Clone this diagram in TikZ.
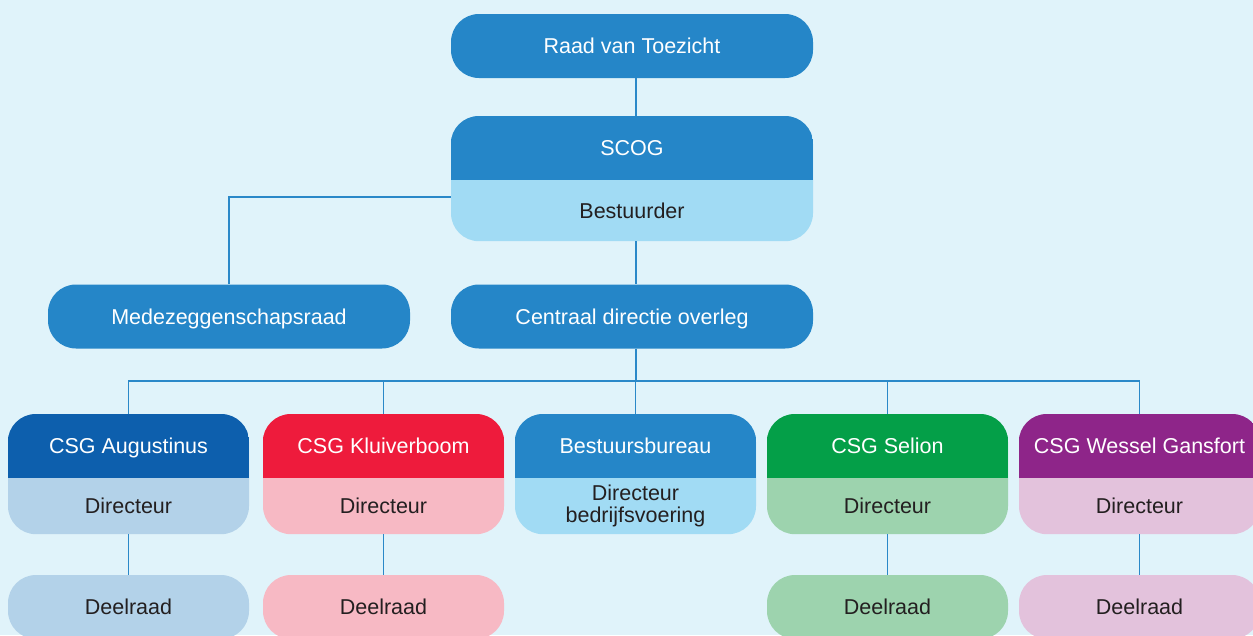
\documentclass[tikz,border=0pt]{standalone}
\usepackage{fontspec}
\setmainfont{Liberation Sans}
\usetikzlibrary{calc}
\definecolor{bg}{HTML}{E0F3FA}
\definecolor{mid}{HTML}{2586C8}
\definecolor{midl}{HTML}{A1DBF4}
\definecolor{augd}{HTML}{0D5FAD}
\definecolor{augl}{HTML}{B3D2E9}
\definecolor{redd}{HTML}{EE1B3C}
\definecolor{redl}{HTML}{F7B9C4}
\definecolor{grnd}{HTML}{049F48}
\definecolor{grnl}{HTML}{9DD3AE}
\definecolor{purd}{HTML}{8E2589}
\definecolor{purl}{HTML}{E3C2DC}
\definecolor{linec}{HTML}{2A88C8}
\definecolor{tdark}{HTML}{231F20}
\tikzset{
  box/.style={rounded corners=28pt, minimum height=64pt, inner sep=0pt, draw=none},
  txt/.style={font=\fontsize{21.5}{21.5}\selectfont, inner sep=0pt},
  captxt/.style={txt, text height=15.4pt, text depth=0pt},
  txtw/.style={captxt, text=white},
  txtd/.style={captxt, text=tdark},
  conn/.style={draw=linec, line width=1.3pt},
}
% name, cx, ytop, width, subheight, dark, light, title, sub
\newcommand\twopart[9]{%
  \node[box, fill=#7, minimum width=#4pt, minimum height={64pt+#5pt}, anchor=north] (#1) at (#2,#3) {};
  \begin{scope}
    \clip[rounded corners=28pt] (#1.north west) rectangle (#1.south east);
    \fill[#6] (#1.north west) rectangle ($(#1.north east)+(0,64)$);
  \end{scope}
  \node[txtw] (#1-t) at ($(#1.north)+(0,32)$) {#8};
  \node[txt, text=tdark, align=center] (#1-s) at ($(#1.north)+(0,{64+#5/2})$) {#9};
}
\begin{document}
\begin{tikzpicture}[x=1pt,y=-1pt]
\useasboundingbox (0,0) rectangle (1253,635);
\fill[bg] (0,0) rectangle (1253,635);

\coordinate (sp) at (636,0);
\coordinate (jm) at (0,197);
\coordinate (bus) at (0,381);

\node[box, fill=mid, minimum width=362pt, txtw] (rvt) at (632,46) {Raad van Toezicht};
\twopart{scog}{632}{116}{362}{61}{mid}{midl}{SCOG}{\vphantom{D}Bestuurder}
\node[box, fill=mid, minimum width=362pt, txtw] (mr) at (229,316.5) {Medezeggenschapsraad};
\node[box, fill=mid, minimum width=362pt, txtw] (cdo) at (632,316.5) {Centraal directie overleg};

\twopart{aug}{128.5}{414}{241}{56}{augd}{augl}{CSG Augustinus}{\vphantom{D}Directeur}
\twopart{klu}{383.5}{414}{241}{56}{redd}{redl}{CSG Kluiverboom}{\vphantom{D}Directeur}
\twopart{bb}{635.5}{414}{241}{56}{mid}{midl}{Bestuursbureau}{Directeur\\bedrijfsvoering}
\twopart{sel}{887.5}{414}{241}{56}{grnd}{grnl}{CSG Selion}{\vphantom{D}Directeur}
\twopart{wes}{1139.5}{414}{241}{56}{purd}{purl}{CSG Wessel Gansfort}{\vphantom{D}Directeur}

\node[box, fill=augl, minimum width=241pt, txtd] (augr) at (128.5,607) {Deelraad};
\node[box, fill=redl, minimum width=241pt, txtd] (klur) at (383.5,607) {Deelraad};
\node[box, fill=grnl, minimum width=241pt, txtd] (selr) at (887.5,607) {Deelraad};
\node[box, fill=purl, minimum width=241pt, txtd] (wesr) at (1139.5,607) {Deelraad};

\draw[conn] (rvt.south -| sp) -- (scog.north -| sp);
\draw[conn] (scog.west |- jm) -| (mr.north);
\draw[conn] (scog.south -| sp) -- (cdo.north -| sp);
\draw[conn] (cdo.south -| sp) -- (bus -| sp);
\draw[conn] (aug.north) -- (aug.north |- bus) -- (wes.north |- bus) -- (wes.north);
\draw[conn] (klu.north) -- (klu.north |- bus);
\draw[conn] (bb.north) -- (bb.north |- bus);
\draw[conn] (sel.north) -- (sel.north |- bus);
\draw[conn] (aug.south) -- (augr.north);
\draw[conn] (klu.south) -- (klur.north);
\draw[conn] (sel.south) -- (selr.north);
\draw[conn] (wes.south) -- (wesr.north);
\end{tikzpicture}
\end{document}
